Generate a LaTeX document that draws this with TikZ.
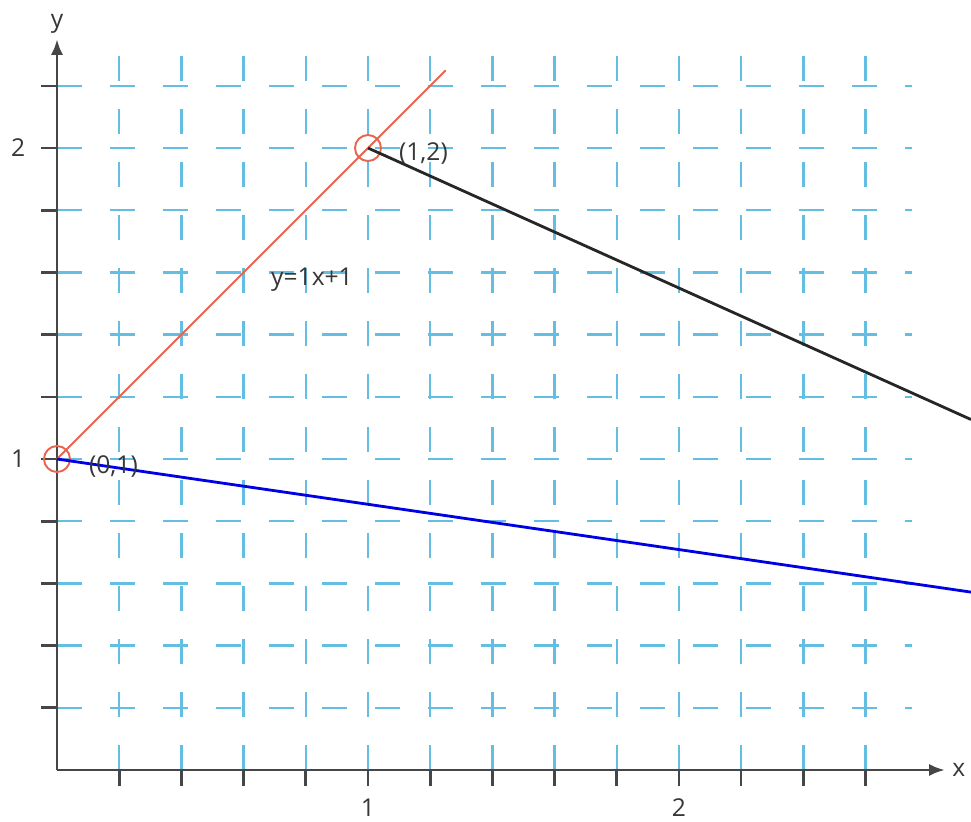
\documentclass[tikz,border=0pt]{standalone}
\usepackage{fontspec}
\setmainfont{Open Sans}
\usepackage{xcolor}
\usetikzlibrary{arrows.meta, positioning}

\definecolor{gridblue}{RGB}{100,190,225}
\definecolor{axisgray}{RGB}{70,70,70}
\definecolor{linered}{RGB}{232,100,80}
\definecolor{labelgray}{RGB}{55,55,55}

\begin{document}
\begin{tikzpicture}[
  x=6.22cm, y=6.22cm,
  font=\fontsize{14}{16}\selectfont,
  gridline/.style={gridblue, line width=1.4pt, dash pattern=on 0.5cm off 0.56cm},
  axis/.style={axisgray, line width=1.7pt, -{Latex[length=9pt,width=7pt]}},
  tick/.style={axisgray, line width=1.5pt},
  point/.style={circle, draw=linered, line width=1.1pt, minimum size=0.52cm, inner sep=0pt},
  lbl/.style={text=labelgray, inner sep=1pt}
]
\useasboundingbox (-0.1833,-0.164) rectangle (2.939,2.476);

% grid
\foreach \yy in {0.2,0.4,...,2.21}
  \draw [gridline] (0,\yy) -- (2.75,\yy);
\foreach \xx in {0.2,0.4,...,2.61}
  \draw [gridline] (\xx,0) -- (\xx,2.3);

% axes and ticks
\coordinate (origin) at (0,0);
\coordinate (xend) at (2.855,0);
\coordinate (yend) at (0,2.35);
\draw [axis] (origin) -- (xend);
\draw [axis] (origin) -- (yend);
\foreach \yy in {0.2,0.4,...,2.21}
  \draw [tick] (-0.05,\yy) -- (0,\yy);
\foreach \xx in {0.2,0.4,...,2.61}
  \draw [tick] (\xx,0) -- (\xx,-0.05);
\node (xlab) [lbl, right=3pt of xend] {x};
\node (ylab) [lbl, above=2pt of yend] {y};
\node (y1) [lbl] at (-0.125,1) {1};
\node (y2) [lbl] at (-0.125,2) {2};
\node (x1) [lbl] at (1,-0.12) {1};
\node (x2) [lbl] at (2,-0.12) {2};

% points and lines
\node (P) [point] at (0,1) {};
\node (Q) [point] at (1,2) {};
\coordinate (redend) at (1.25,2.25);
\coordinate (blackend) at (2.939,1.127);
\coordinate (blueend) at (2.939,0.572);

\draw [linered, line width=1.1pt] (P.center) -- (redend);
\draw [black!85, line width=1.6pt] (Q.center) -- (blackend);
\draw [blue!90!black, line width=1.6pt] (P.center) -- (blueend);

\node (Qlab) [lbl, right=0.3cm of Q, yshift=-0.12cm] {(1,2)};
\node (Plab) [lbl, right=0.32cm of P, yshift=-0.15cm] {(0,1)};
\node (eq) [lbl] at (0.82,1.576) {y=1x+1};

\end{tikzpicture}
\end{document}
